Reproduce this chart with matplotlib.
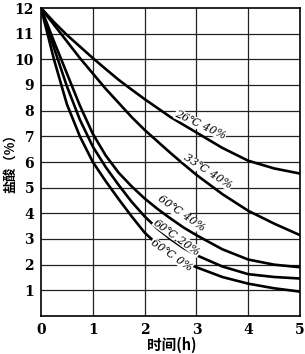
import numpy as np
import matplotlib
matplotlib.use("Agg")
import matplotlib.pyplot as plt

plt.rcParams['font.family'] = ['DejaVu Serif', 'Noto Sans CJK SC']

# 时间 (h)
t = [0, 0.25, 0.5, 0.75, 1, 1.25, 1.5, 1.75, 2, 2.25, 2.5, 2.75, 3, 3.5, 4, 4.5, 5]

# 盐酸浓度 (%) 读图估计
c26_40 = [12, 11.45, 10.95, 10.5, 10.05, 9.62, 9.2, 8.82, 8.45, 8.1, 7.75, 7.45, 7.15, 6.55, 6.05, 5.75, 5.55]
c33_40 = [12, 11.35, 10.7, 10.05, 9.45, 8.85, 8.3, 7.75, 7.25, 6.8, 6.35, 5.92, 5.5, 4.75, 4.1, 3.6, 3.15]
c60_40 = [12, 10.7, 9.45, 8.2, 7.1, 6.25, 5.58, 5.05, 4.58, 4.17, 3.8, 3.45, 3.15, 2.6, 2.2, 2.0, 1.9]
c60_20 = [12, 10.45, 8.95, 7.65, 6.6, 5.8, 5.1, 4.45, 3.88, 3.4, 3.0, 2.65, 2.37, 1.93, 1.63, 1.52, 1.46]
c60_0 = [12, 10.0, 8.25, 7.0, 6.0, 5.25, 4.55, 3.88, 3.25, 2.78, 2.42, 2.12, 1.9, 1.52, 1.26, 1.08, 0.95]

curves = [c26_40, c33_40, c60_40, c60_20, c60_0]
labels = ['26℃ 40%', '33℃ 40%', '60℃ 40%', '60℃,20%', '60℃ 0%']

fig = plt.figure(figsize=(3.05, 3.54), dpi=100)
ax = fig.add_axes([41 / 305, 1 - 316 / 354, 259 / 305, 308 / 354])

# 网格
for xv in range(1, 5):
    ax.axvline(xv, color='#222222', lw=0.9, zorder=1)
for yv in range(1, 12):
    ax.axhline(yv, color='#222222', lw=0.9, zorder=1)

for c in curves:
    ax.plot(t, c, color='black', lw=1.9, zorder=2, solid_capstyle='round')

# 曲线标注 (位置: x, y, 旋转角)
label_pos = [(3.08, 7.45, -25), (3.22, 5.62, -33), (2.7, 3.98, -35), (2.63, 3.08, -36), (2.52, 2.38, -35)]
for (x, y, r), s in zip(label_pos, labels):
    ax.text(x, y, s, rotation=r, rotation_mode='anchor', ha='center', va='center',
            fontsize=8, style='italic', zorder=3,
            bbox=dict(facecolor='white', edgecolor='none', pad=0.3))

ax.set_xlim(0, 5)
ax.set_ylim(0, 12)
ax.set_xticks(range(0, 6))
ax.set_yticks(range(1, 13))
ax.tick_params(length=0, labelsize=10, pad=5)
for lab in ax.get_xticklabels() + ax.get_yticklabels():
    lab.set_fontweight('bold')
for sp in ax.spines.values():
    sp.set_linewidth(1.2)

fig.text(172 / 305, 1 - 345 / 354, '时间(h)', fontsize=10.5, fontweight='bold',
         family=['Noto Sans CJK SC'], ha='center', va='center')
fig.text(10 / 305, 1 - 160 / 354, '盐酸（%）', fontsize=9.5, fontweight='bold',
         family=['Noto Sans CJK SC'], ha='center', va='center', rotation=90)

fig.savefig('out.png', dpi=100)
